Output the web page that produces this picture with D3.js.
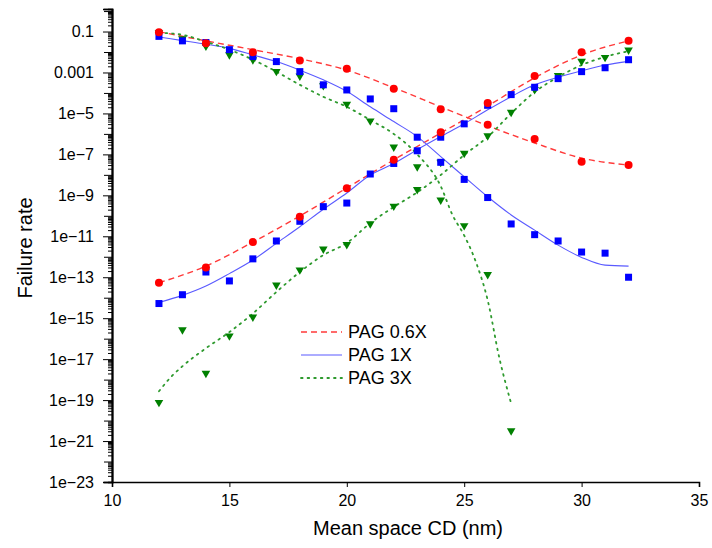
<!DOCTYPE html>
<html>
<head>
<meta charset="utf-8">
<script src="https://cdn.jsdelivr.net/npm/d3@7"></script>
<style>
    body { margin: 0; background: #fff; }
    text { font-family: "Liberation Sans", Arial, sans-serif; fill: #000; }
</style>
</head>
<body>
<div id="canvas"></div>
<script>
"use strict"

let svgWidth = 712
let svgHeight = 548

let topMargin = 9;
let rightMargin = 13;
let bottomMargin = 66;
let leftMargin = 112;

// measured points, x = mean space CD (nm), y = failure rate
let xEven = [12, 14, 16, 18, 20, 22, 24, 26, 28, 30, 32];
let xAll = [12, 13, 14, 15, 16, 17, 18, 19, 20, 21, 22, 23, 24, 25, 26, 27, 28, 29, 30, 31, 32];
let xGreenDown = [12, 13, 14, 15, 16, 17, 18, 19, 20, 21, 22, 23, 24, 25, 26, 27];

let redDown = [9.3e-2, 2.7e-2, 9.8e-3, 3.8e-3, 1.5e-3, 1.6e-4, 1.6e-5, 2.8e-6, 5.6e-7, 4.4e-8, 3.0e-8];
let redUp = [5.4e-14, 3.0e-13, 5.2e-12, 8.9e-11, 2.2e-9, 5.5e-8, 1.2e-6, 3.2e-5, 6.8e-4, 9.8e-3, 3.5e-2];

let blueDown = [5.8e-2, 3.5e-2, 2.9e-2, 1.3e-2, 6.0e-3, 3.4e-3, 1.1e-3, 2.5e-4, 1.4e-4, 5.1e-5, 1.7e-5,
    6.9e-7, 4.1e-8, 6.0e-9, 7.8e-10, 4.0e-11, 1.2e-11, 5.9e-12, 1.7e-12, 1.5e-12, 1.0e-13];
let blueUp = [5.2e-15, 1.4e-14, 1.8e-13, 6.6e-14, 7.9e-13, 5.9e-12, 5.4e-11, 2.8e-10, 4.2e-10, 1.1e-8, 3.6e-8,
    1.5e-7, 6.9e-7, 3.1e-6, 2.5e-5, 8.3e-5, 1.9e-4, 5.0e-4, 1.1e-3, 1.7e-3, 4.2e-3];

let greenDown = [7.8e-2, 3.9e-2, 1.7e-2, 6.5e-3, 3.7e-3, 1.0e-3, 5.9e-4, 2.0e-4, 2.5e-5, 3.8e-6, 2.0e-7,
    2.2e-8, 5.2e-10, 2.9e-11, 1.2e-13, 2.8e-21];
let greenUp = [6.8e-20, 2.4e-16, 1.8e-18, 1.2e-16, 1.0e-15, 3.7e-14, 2.0e-13, 2.1e-12, 3.5e-12, 3.6e-11, 2.6e-10,
    1.7e-9, 3.6e-8, 1.0e-7, 7.1e-7, 1.0e-5, 1.3e-4, 6.3e-4, 3.1e-3, 4.8e-3, 1.1e-2];

// fitted curves
let redFitDown = [9.8e-2, 3.5e-2, 1.3e-2, 4.7e-3, 1.3e-3, 1.8e-4, 2.1e-5, 2.5e-6, 3.6e-7, 6.6e-8, 3.0e-8];
let redFitUp = [5.4e-14, 3.5e-13, 5.2e-12, 9.8e-11, 2.3e-9, 5.4e-8, 1.1e-6, 2.3e-5, 5.5e-4, 7.2e-3, 3.5e-2];

let blueFitDown = [5.4e-2, 3.6e-2, 2.4e-2, 1.5e-2, 7.2e-3, 3.4e-3, 1.3e-3, 4.4e-4, 1.2e-4, 2.1e-5, 4.0e-6,
    7.4e-7, 7.8e-8, 8.1e-9, 8.5e-10, 1.1e-10, 2.0e-11, 3.7e-12, 9.3e-13, 3.9e-13, 3.5e-13];
let blueFitUp = [5.9e-15, 1.3e-14, 3.7e-14, 1.5e-13, 6.9e-13, 4.5e-12, 2.9e-11, 2.1e-10, 1.3e-9, 9.8e-9, 3.6e-8,
    1.7e-7, 7.4e-7, 3.1e-6, 1.5e-5, 6.6e-5, 2.5e-4, 5.9e-4, 1.2e-3, 2.3e-3, 3.5e-3];

let xGreenFitDown = [12, 13, 14, 15, 16, 17, 18, 19, 20, 21, 22, 23, 24, 24.5, 25, 25.5, 26, 26.5, 27];
let greenFitDown = [8.7e-2, 6.9e-2, 3.2e-2, 1.3e-2, 4.2e-3, 1.1e-3, 2.5e-4, 6.5e-5, 2.1e-5, 4.8e-6, 1.0e-6,
    1.0e-7, 2.8e-9, 1.1e-10, 1.1e-11, 5.5e-13, 7.6e-15, 1.1e-17, 6.9e-20];
let xGreenFitUp = [12, 12.5, 13, 14, 15, 16, 17, 18, 19, 20, 21, 22, 23, 24, 25, 26, 27, 28, 29, 30, 31, 32];
let greenFitUp = [2.7e-19, 1.3e-18, 4.5e-18, 3.4e-17, 2.1e-16, 1.7e-15, 1.9e-14, 1.8e-13, 1.2e-12, 4.7e-12,
    4.4e-11, 2.7e-10, 1.4e-9, 9.8e-9, 9.3e-8, 7.1e-7, 1.0e-5, 1.1e-4, 6.0e-4, 2.3e-3, 5.8e-3, 1.1e-2];

let xTicks = [10, 15, 20, 25, 30, 35];
let yTicks = [1e-1, 1e-3, 1e-5, 1e-7, 1e-9, 1e-11, 1e-13, 1e-15, 1e-17, 1e-19, 1e-21, 1e-23];
let yTickLabels = ["0.1", "0.001", "1e\u22125", "1e\u22127", "1e\u22129", "1e\u221211", "1e\u221213",
    "1e\u221215", "1e\u221217", "1e\u221219", "1e\u221221", "1e\u221223"];

let legendNames = ["PAG 0.6X", "PAG 1X", "PAG 3X"];

let svg = d3.select("#canvas")
    .append("svg")
    .attr("width", svgWidth)
    .attr("height", svgHeight)

let xScale = d3.scaleLinear()
    .domain([10, 35])
    .range([leftMargin, svgWidth - rightMargin])

let yScale = d3.scaleLog()
    .domain([1e-23, Math.pow(10, 0.1)])
    .range([svgHeight - bottomMargin, topMargin])

function pairs(xs, ys) {
    return xs.map(function (x, i) {
        return { x: x, y: ys[i] };
    });
}

let line = d3.line()
    .x(function (d) { return xScale(d.x); })
    .y(function (d) { return yScale(d.y); })
    .curve(d3.curveMonotoneX)

/* fitted curves */
let curves = [
    { pts: pairs(xEven, redFitDown), color: "#ff3a3a", dash: "6,4", width: 1.4 },
    { pts: pairs(xEven, redFitUp), color: "#ff3a3a", dash: "6,4", width: 1.4 },
    { pts: pairs(xAll, blueFitDown), color: "#5a5aff", dash: null, width: 1.1 },
    { pts: pairs(xAll, blueFitUp), color: "#5a5aff", dash: null, width: 1.1 },
    { pts: pairs(xGreenFitDown, greenFitDown), color: "#2e9a2e", dash: "1.6,5", width: 1.8 },
    { pts: pairs(xGreenFitUp, greenFitUp), color: "#2e9a2e", dash: "1.6,5", width: 1.8 }
];

svg.selectAll("path.fit")
    .data(curves)
    .join("path")
    .classed("fit", true)
    .attr("d", function (c) { return line(c.pts); })
    .attr("fill", "none")
    .attr("stroke", function (c) { return c.color; })
    .attr("stroke-width", function (c) { return c.width; })
    .attr("stroke-dasharray", function (c) { return c.dash; })
    .attr("stroke-linecap", function (c) { return c.dash && c.width > 1.5 ? "round" : "butt"; })

/* markers: green first, blue, then red on top */
let greenPts = pairs(xGreenDown, greenDown).concat(pairs(xAll, greenUp));
let bluePts = pairs(xAll, blueDown).concat(pairs(xAll, blueUp));
let redPts = pairs(xEven, redDown).concat(pairs(xEven, redUp));

svg.selectAll("path.green")
    .data(greenPts)
    .join("path")
    .classed("green", true)
    .attr("d", "M-4.3,-3.6L4.3,-3.6L0,3.8Z")
    .attr("transform", function (d) {
        return `translate(${xScale(d.x)},${yScale(d.y)})`;
    })
    .attr("fill", "#008000")

svg.selectAll("rect.blue")
    .data(bluePts)
    .join("rect")
    .classed("blue", true)
    .attr("x", function (d) { return xScale(d.x) - 3.5; })
    .attr("y", function (d) { return yScale(d.y) - 3.5; })
    .attr("width", 7)
    .attr("height", 7)
    .attr("fill", "#0000ff")

svg.selectAll("circle.red")
    .data(redPts)
    .join("circle")
    .classed("red", true)
    .attr("cx", function (d) { return xScale(d.x); })
    .attr("cy", function (d) { return yScale(d.y); })
    .attr("r", 4)
    .attr("fill", "#ff0000")

/* axes */
let xAxis = svg.append("g")
    .attr("transform", `translate(0, ${svgHeight - bottomMargin})`)
    .call(d3.axisBottom(xScale).tickValues(xTicks).tickSize(5).tickPadding(8).tickFormat(d3.format("d")))

let minorTicks = [];
for (let e = -23; e <= 0; e++) {
    for (let m = 2; m <= 9; m++) {
        if (e < 0) minorTicks.push(m * Math.pow(10, e));
    }
}
let midTicks = [];
for (let e = -22; e <= 0; e += 2) {
    midTicks.push(Math.pow(10, e));
}

svg.append("g")
    .attr("transform", `translate(${leftMargin},0)`)
    .call(d3.axisLeft(yScale).tickValues(minorTicks).tickSize(4).tickFormat(""))

svg.append("g")
    .attr("transform", `translate(${leftMargin},0)`)
    .call(d3.axisLeft(yScale).tickValues(midTicks).tickSize(8).tickFormat(""))

let yAxis = svg.append("g")
    .attr("transform", `translate(${leftMargin},0)`)
    .call(d3.axisLeft(yScale).tickValues(yTicks).tickSize(9).tickPadding(9)
        .tickFormat(function (d, i) { return yTickLabels[i]; }))

svg.selectAll(".domain")
    .attr("stroke-width", 1.6)
    .attr("stroke", "#000")

svg.selectAll(".tick line")
    .attr("stroke", "#000")

xAxis.selectAll("text").style("font-size", "16px")
yAxis.selectAll("text").style("font-size", "16px")

svg.append("text")
    .attr("x", 408)
    .attr("y", 535)
    .style("text-anchor", "middle")
    .style("font-size", "20px")
    .text("Mean space CD (nm)")

svg.append("text")
    .attr("transform", "translate(25, 248) rotate(-90)")
    .style("text-anchor", "middle")
    .style("dominant-baseline", "central")
    .style("font-size", "20px")
    .text("Failure rate")

/* legend */
let legendColors = ["#ff3a3a", "#5a5aff", "#2e9a2e"];
let legendDash = ["6,4", null, "1.6,5"];
let legendWidth = [1.4, 1.1, 1.8];
for (let i = 0; i < 3; i++) {
    let ly = 332 + i * 23;
    svg.append("line")
        .attr("x1", 301)
        .attr("x2", 342)
        .attr("y1", ly)
        .attr("y2", ly)
        .attr("stroke", legendColors[i])
        .attr("stroke-width", legendWidth[i])
        .attr("stroke-dasharray", legendDash[i])
        .attr("stroke-linecap", i == 2 ? "round" : "butt")

    svg.append("text")
        .attr("x", 348)
        .attr("y", ly)
        .style("dominant-baseline", "central")
        .style("font-size", "18px")
        .text(legendNames[i])
}
</script>
</body>
</html>
